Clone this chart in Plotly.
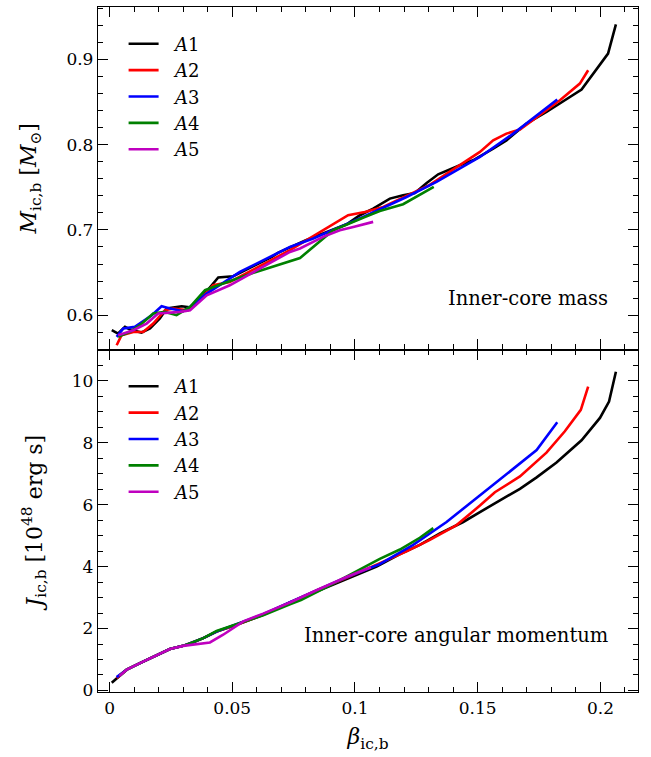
import plotly.graph_objects as go
from plotly.subplots import make_subplots

# ---------------- data: inner-core mass (top panel) ----------------
beta_m_A1 = [0.0009, 0.0035, 0.0063, 0.0083, 0.013, 0.0165, 0.0205, 0.0233, 0.0294, 0.0334, 0.036,
             0.0443, 0.0504, 0.066, 0.0686, 0.08, 0.0966, 0.102, 0.1074, 0.1142, 0.1196, 0.1244,
             0.1292, 0.1339, 0.1427, 0.1481, 0.1563, 0.1617, 0.1699, 0.178, 0.1923, 0.1998, 0.2031, 0.2063]
mass_A1 = [0.5824, 0.5785, 0.5863, 0.5833, 0.5797, 0.5844, 0.5961, 0.6078, 0.6105, 0.609, 0.6156,
           0.6442, 0.6457, 0.668, 0.673, 0.688, 0.7066, 0.7172, 0.725, 0.7367, 0.7406, 0.7433,
           0.755, 0.7652, 0.7758, 0.7816, 0.7953, 0.805, 0.8246, 0.8382, 0.8645, 0.893, 0.9067, 0.941]

beta_m_A2 = [0.0029, 0.0049, 0.0097, 0.0137, 0.0178, 0.0226, 0.026, 0.0321, 0.0368, 0.0422, 0.049,
             0.0735, 0.0803, 0.087, 0.0972, 0.104, 0.1115, 0.13, 0.1455, 0.1509, 0.1563, 0.1617,
             0.1672, 0.1835, 0.1916, 0.195]
mass_A2 = [0.5648, 0.5766, 0.5804, 0.5804, 0.5902, 0.6059, 0.6078, 0.6059, 0.6176, 0.6351, 0.639,
           0.6762, 0.6879, 0.6996, 0.7172, 0.721, 0.7269, 0.752, 0.7816, 0.7914, 0.805, 0.8129,
           0.8176, 0.852, 0.8715, 0.8871]

beta_m_A3 = [0.0029, 0.0056, 0.0103, 0.0172, 0.0212, 0.0246, 0.03, 0.0328, 0.0396, 0.0531, 0.0735,
             0.083, 0.1033, 0.121, 0.1332, 0.1509, 0.1645, 0.1824]
mass_A3 = [0.5746, 0.5844, 0.5863, 0.6, 0.6105, 0.6078, 0.6047, 0.6097, 0.6254, 0.6508, 0.68,
           0.6899, 0.7152, 0.7386, 0.7562, 0.7855, 0.8129, 0.8528]

beta_m_A4 = [0.0035, 0.0083, 0.0124, 0.0178, 0.0226, 0.0273, 0.0328, 0.0389, 0.0443, 0.06, 0.0776,
             0.0911, 0.104, 0.1101, 0.1196, 0.1264, 0.1321]
mass_A4 = [0.5746, 0.5804, 0.5883, 0.602, 0.6039, 0.6, 0.6097, 0.6293, 0.6351, 0.651, 0.667,
           0.6996, 0.7152, 0.7222, 0.7301, 0.7406, 0.7503]

beta_m_A5 = [0.0035, 0.0097, 0.0151, 0.0198, 0.0287, 0.0328, 0.0396, 0.049, 0.0735, 0.0776, 0.087,
             0.0938, 0.0993, 0.1074]
mass_A5 = [0.5766, 0.5824, 0.5902, 0.602, 0.6039, 0.6059, 0.6234, 0.6351, 0.6742, 0.6782, 0.6918,
           0.6996, 0.7035, 0.7094]

# ---------------- data: inner-core angular momentum (bottom panel) ----------------
beta_j_A1 = [0.0009, 0.004, 0.007, 0.0124, 0.0192, 0.0246, 0.03, 0.0328, 0.0382, 0.0436, 0.0518,
             0.0626, 0.0735, 0.085, 0.097, 0.1088, 0.1183, 0.1264, 0.1346, 0.1441, 0.1509, 0.159,
             0.1672, 0.174, 0.1821, 0.1923, 0.1998, 0.2035, 0.2063]
J_A1 = [0.25, 0.47, 0.67, 0.88, 1.15, 1.34, 1.44, 1.51, 1.69, 1.90, 2.12,
        2.44, 2.84, 3.22, 3.60, 4.0, 4.40, 4.70, 5.07, 5.44, 5.76, 6.13,
        6.51, 6.88, 7.36, 8.08, 8.8, 9.33, 10.29]

beta_j_A2 = [0.0029, 0.004, 0.007, 0.0124, 0.0192, 0.0246, 0.03, 0.0382, 0.0436, 0.0518, 0.0626,
             0.0735, 0.085, 0.097, 0.1088, 0.121, 0.1305, 0.1414, 0.1509, 0.157, 0.1672, 0.178,
             0.1855, 0.192, 0.195]
J_A2 = [0.40, 0.47, 0.67, 0.88, 1.15, 1.34, 1.44, 1.69, 1.90, 2.12, 2.45,
        2.84, 3.25, 3.65, 4.05, 4.49, 4.86, 5.34, 5.97, 6.40, 6.91, 7.68,
        8.37, 9.06, 9.81]

beta_j_A3 = [0.0029, 0.007, 0.0124, 0.0192, 0.0246, 0.03, 0.0382, 0.0436, 0.0518, 0.0626, 0.0735,
             0.085, 0.097, 0.1101, 0.1237, 0.1373, 0.1509, 0.1645, 0.174, 0.1824]
J_A3 = [0.43, 0.67, 0.88, 1.15, 1.34, 1.44, 1.69, 1.90, 2.14, 2.46, 2.85,
        3.26, 3.67, 4.08, 4.70, 5.44, 6.29, 7.15, 7.76, 8.66]

beta_j_A4 = [0.004, 0.007, 0.0124, 0.0192, 0.0246, 0.03, 0.0382, 0.0436, 0.0518, 0.0626, 0.0735,
             0.078, 0.09, 0.102, 0.1101, 0.1183, 0.1264, 0.1319]
J_A4 = [0.47, 0.67, 0.88, 1.15, 1.34, 1.44, 1.69, 1.92, 2.13, 2.43, 2.78,
        2.92, 3.40, 3.92, 4.25, 4.55, 4.93, 5.24]

beta_j_A5 = [0.004, 0.007, 0.0124, 0.0192, 0.0246, 0.03, 0.0409, 0.0463, 0.0545, 0.0626, 0.0735,
             0.085, 0.097, 0.1065]
J_A5 = [0.47, 0.67, 0.88, 1.15, 1.34, 1.44, 1.55, 1.80, 2.23, 2.48, 2.84,
        3.26, 3.68, 3.98]

names = ["A1", "A2", "A3", "A4", "A5"]
colors = ["#000000", "#ff0000", "#0000ff", "#008000", "#bf00bf"]
mass_series = [(beta_m_A1, mass_A1), (beta_m_A2, mass_A2), (beta_m_A3, mass_A3),
               (beta_m_A4, mass_A4), (beta_m_A5, mass_A5)]
j_series = [(beta_j_A1, J_A1), (beta_j_A2, J_A2), (beta_j_A3, J_A3),
            (beta_j_A4, J_A4), (beta_j_A5, J_A5)]

FONT = "DejaVu Serif"
NBSP = "\u00a0"
fig = make_subplots(rows=2, cols=1, shared_xaxes=True, vertical_spacing=0)

for i, (nm, col) in enumerate(zip(names, colors)):
    label = NBSP * 2 + "<i>A</i>" + nm[1:]
    bx, by = mass_series[i]
    fig.add_trace(go.Scatter(x=bx, y=by, mode="lines", name=label,
                             line=dict(color=col, width=2.6), legend="legend"), row=1, col=1)
    jx, jy = j_series[i]
    fig.add_trace(go.Scatter(x=jx, y=jy, mode="lines", name=label,
                             line=dict(color=col, width=2.6), legend="legend2"), row=2, col=1)

axis_common = dict(showline=True, linecolor="black", linewidth=1.3, mirror="allticks",
                   ticks="inside", ticklen=10, tickwidth=1.2, tickcolor="black",
                   showgrid=False, zeroline=False,
                   tickfont=dict(family=FONT, size=17, color="black"))

fig.update_xaxes(**axis_common, range=[-0.0047, 0.2153], dtick=0.05, tick0=0,
                 minor=dict(ticks="inside", ticklen=5, tickwidth=1.1, tickcolor="black", dtick=0.01, tick0=0, showgrid=False))
fig.update_xaxes(showticklabels=False, row=1, col=1)
fig.update_xaxes(title=dict(text="<i>β</i><sub>ic,b</sub>", font=dict(family=FONT, size=22, color="black"), standoff=12),
                 row=2, col=1)

fig.update_yaxes(**axis_common)
fig.update_yaxes(range=[0.5598, 0.9613], dtick=0.1, tick0=0.6,
                 minor=dict(ticks="inside", ticklen=5, tickwidth=1.1, tickcolor="black", dtick=0.02, tick0=0.6, showgrid=False),
                 title=dict(text="<i>M</i><sub>ic,b</sub> [<i>M</i><sub>⊙</sub>]", font=dict(family=FONT, size=22, color="black"), standoff=23),
                 row=1, col=1)
fig.update_yaxes(range=[-0.05, 11.01], dtick=2, tick0=0,
                 minor=dict(ticks="inside", ticklen=5, tickwidth=1.1, tickcolor="black", dtick=0.5, tick0=0, showgrid=False),
                 title=dict(text="<i>J</i><sub>ic,b</sub> [10<sup>48</sup> erg s]", font=dict(family=FONT, size=22, color="black"), standoff=23),
                 row=2, col=1)

legend_common = dict(bgcolor="rgba(0,0,0,0)", borderwidth=0, xanchor="left", yanchor="top",
                     font=dict(family=FONT, size=18, color="black"), tracegroupgap=0)
fig.update_layout(
    width=651, height=757,
    margin=dict(l=98, r=13, t=7, b=65),
    paper_bgcolor="white", plot_bgcolor="white",
    font=dict(family=FONT, color="black"),
    legend=dict(**legend_common, x=0.0474, y=0.973),
    legend2=dict(**legend_common, x=0.0474, y=0.473),
    annotations=[
        dict(text="Inner-core mass", xref="paper", yref="paper", x=0.948, y=0.5 + 0.5 * 51 / 342.6,
             xanchor="right", yanchor="middle", showarrow=False,
             font=dict(family=FONT, size=19.5, color="black")),
        dict(text="Inner-core angular momentum", xref="paper", yref="paper", x=0.948, y=0.5 * 56.5 / 343,
             xanchor="right", yanchor="middle", showarrow=False,
             font=dict(family=FONT, size=19.5, color="black")),
    ],
)

fig.write_html("out.html")
